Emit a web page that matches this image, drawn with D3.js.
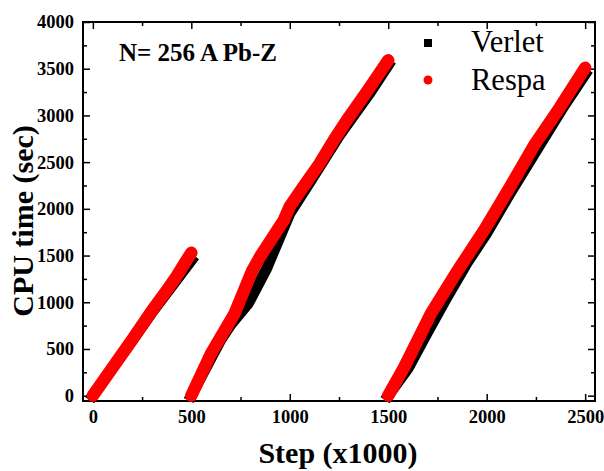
<!DOCTYPE html>
<html>
<head>
<meta charset="utf-8">
<script src="https://cdn.jsdelivr.net/npm/d3@7"></script>
<style>
  body { margin: 0; background: #fff; }
  text { font-family: "Liberation Serif", "Times New Roman", serif; }
  .axis path { display: none; }
  .axis line { stroke: #000; stroke-width: 1.5; }
  .axis text { font-size: 18.5px; font-weight: bold; fill: #000; }
</style>
</head>
<body>
<script>
const width = 604;
const height = 471;

// step (x1000) vs CPU time (sec), three restarted runs each
var verletRun1 = [[0, 0], [100, 295], [200, 590], [300, 890], [400, 1170], [500, 1450]];
var verletRun2 = [[500, 0], [600, 400], [650, 600], [700, 760], [790, 990], [880, 1350],
                  [950, 1700], [1000, 1950], [1100, 2280], [1250, 2780], [1400, 3220], [1500, 3540]];
var verletRun3 = [[1500, 0], [1600, 290], [1700, 680], [1800, 1060], [1900, 1420], [2000, 1740],
                  [2120, 2170], [2260, 2650], [2380, 3060], [2500, 3440]];

var respaRun1 = [[0, 0], [100, 300], [200, 600], [300, 910], [380, 1140], [420, 1260], [470, 1430], [500, 1530]];
var respaRun2 = [[500, 0], [600, 450], [720, 880], [810, 1340], [850, 1490], [970, 1880], [1000, 2025],
                 [1060, 2210], [1150, 2480], [1225, 2740], [1300, 2980], [1400, 3280], [1500, 3590]];
var respaRun3 = [[1500, 0], [1580, 300], [1717, 880], [1850, 1330], [1988, 1775], [2120, 2240],
                 [2241, 2680], [2370, 3080], [2500, 3510]];

var xTicks = [0, 500, 1000, 1500, 2000, 2500];
var yTicks = [0, 500, 1000, 1500, 2000, 2500, 3000, 3500, 4000];
var xMinor = [250, 750, 1250, 1750, 2250];
var yMinor = [250, 750, 1250, 1750, 2250, 2750, 3250, 3750];

var plot = {left: 83, right: 595, top: 22, bottom: 401};

var svg = d3.select("body")
  .append("svg")
  .attr("width", width)
  .attr("height", height);

var x = d3.scaleLinear().domain([-50, 2550]).range([plot.left, plot.right]);
var y = d3.scaleLinear().domain([-57, 4000]).range([plot.bottom, plot.top]);

var fmt = d3.format("d");

// axes with inward ticks
svg.append("g").attr("class", "axis")
  .attr("transform", "translate(0," + plot.bottom + ")")
  .call(d3.axisBottom(x).tickValues(xTicks).tickSize(-7).tickSizeOuter(0).tickPadding(9).tickFormat(fmt));
svg.append("g").attr("class", "axis")
  .attr("transform", "translate(0," + plot.bottom + ")")
  .call(d3.axisBottom(x).tickValues(xMinor).tickSize(-4).tickFormat(""));
svg.append("g").attr("class", "axis")
  .attr("transform", "translate(0," + plot.top + ")")
  .call(d3.axisTop(x).tickValues(xTicks).tickSize(-7).tickFormat(""));
svg.append("g").attr("class", "axis")
  .attr("transform", "translate(0," + plot.top + ")")
  .call(d3.axisTop(x).tickValues(xMinor).tickSize(-4).tickFormat(""));

svg.append("g").attr("class", "axis")
  .attr("transform", "translate(" + plot.left + ",0)")
  .call(d3.axisLeft(y).tickValues(yTicks).tickSize(-7).tickSizeOuter(0).tickPadding(9).tickFormat(fmt));
svg.append("g").attr("class", "axis")
  .attr("transform", "translate(" + plot.left + ",0)")
  .call(d3.axisLeft(y).tickValues(yMinor).tickSize(-4).tickFormat(""));
svg.append("g").attr("class", "axis")
  .attr("transform", "translate(" + plot.right + ",0)")
  .call(d3.axisRight(y).tickValues(yTicks).tickSize(-7).tickFormat(""));
svg.append("g").attr("class", "axis")
  .attr("transform", "translate(" + plot.right + ",0)")
  .call(d3.axisRight(y).tickValues(yMinor).tickSize(-4).tickFormat(""));

// frame
svg.append("rect")
  .attr("x", plot.left).attr("y", plot.top)
  .attr("width", plot.right - plot.left)
  .attr("height", plot.bottom - plot.top)
  .attr("fill", "none")
  .attr("stroke", "#000")
  .attr("stroke-width", 2);

var line = d3.line()
  .x(function(d) { return x(d[0]); })
  .y(function(d) { return y(d[1]); });

// Verlet drawn first, Respa on top
svg.selectAll("path.verlet")
  .data([verletRun1, verletRun2, verletRun3])
  .enter()
  .append("path")
  .attr("class", "verlet")
  .attr("d", line)
  .attr("fill", "none")
  .attr("stroke", "#000")
  .attr("stroke-width", 11)
  .attr("stroke-linejoin", "round")
  .attr("stroke-linecap", "square");

svg.selectAll("path.respa")
  .data([respaRun1, respaRun2, respaRun3])
  .enter()
  .append("path")
  .attr("class", "respa")
  .attr("d", line)
  .attr("fill", "none")
  .attr("stroke", "#ff0000")
  .attr("stroke-width", 12.5)
  .attr("stroke-linejoin", "round")
  .attr("stroke-linecap", "round");

// title inside plot
svg.append("text")
  .attr("x", 119).attr("y", 61)
  .attr("font-size", 25)
  .attr("font-weight", "bold")
  .text("N= 256 A Pb-Z");

// legend
svg.append("rect")
  .attr("x", 424).attr("y", 39)
  .attr("width", 8).attr("height", 8)
  .attr("fill", "#000");
svg.append("text")
  .attr("x", 471).attr("y", 52)
  .attr("font-size", 30.5)
  .text("Verlet");
svg.append("circle")
  .attr("cx", 428).attr("cy", 80)
  .attr("r", 4.5)
  .attr("fill", "#ff0000");
svg.append("text")
  .attr("x", 471).attr("y", 90)
  .attr("font-size", 30.5)
  .text("Respa");

// axis titles
svg.append("text")
  .attr("x", (plot.left + plot.right) / 2 - 1).attr("y", 463)
  .attr("text-anchor", "middle")
  .attr("font-size", 30)
  .attr("font-weight", "bold")
  .text("Step (x1000)");
svg.append("text")
  .attr("transform", "translate(33,221) rotate(-90)")
  .attr("text-anchor", "middle")
  .attr("font-size", 30)
  .attr("font-weight", "bold")
  .text("CPU time (sec)");
</script>
</body>
</html>
